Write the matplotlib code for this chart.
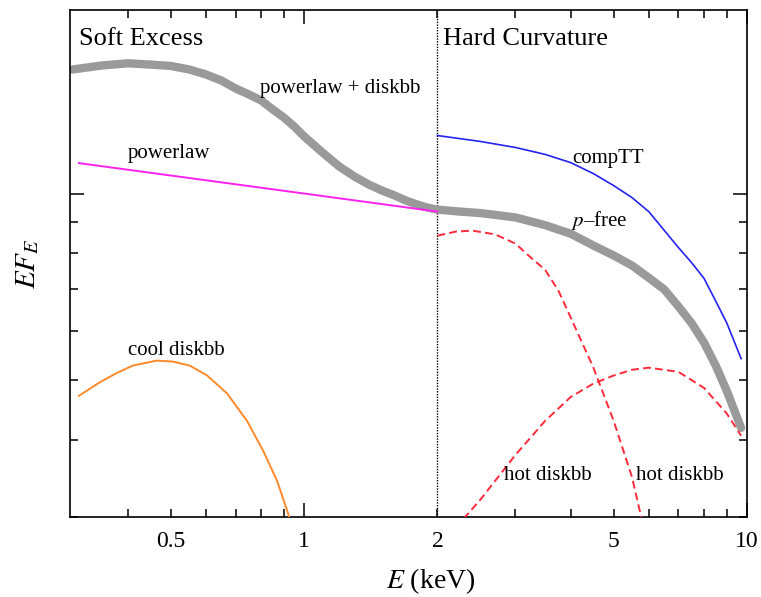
import matplotlib
matplotlib.use('Agg')
import matplotlib.pyplot as plt
import matplotlib.ticker as ticker

plt.rcParams['font.family'] = ['Liberation Serif', 'DejaVu Serif']
plt.rcParams['mathtext.fontset'] = 'stix'

# total model (powerlaw + diskbb on the soft side, p-free on the hard side)
total_e = [0.30, 0.35, 0.40, 0.45, 0.50, 0.55, 0.60, 0.65, 0.70, 0.75, 0.80, 0.85, 0.90, 0.95,
           1.0, 1.1, 1.2, 1.3, 1.4, 1.5, 1.6, 1.7, 1.8, 1.9, 2.0, 2.25, 2.5, 3.0, 3.5, 4.0,
           4.5, 5.0, 5.5, 6.0, 6.5, 7.0, 7.5, 8.0, 8.5, 9.0, 9.7]
total_f = [15.87, 16.11, 16.24, 16.16, 16.08, 15.87, 15.58, 15.23, 14.79, 14.46, 14.14, 13.67,
           13.27, 12.83, 12.37, 11.65, 11.06, 10.65, 10.34, 10.11, 9.93, 9.74, 9.60, 9.49,
           9.42, 9.35, 9.30, 9.15, 8.89, 8.61, 8.24, 7.94, 7.65, 7.31, 7.00, 6.57, 6.17,
           5.74, 5.27, 4.80, 4.18]

# powerlaw
pl_e = [0.31, 1.0, 2.0]
pl_f = [11.2, 10.0, 9.35]

# compTT
comptt_e = [2.0, 2.5, 3.0, 3.5, 4.0, 4.5, 5.0, 5.5, 6.0, 7.0, 7.5, 8.0, 8.5, 9.0, 9.7]
comptt_f = [12.41, 12.14, 11.87, 11.57, 11.22, 10.77, 10.30, 9.85, 9.35, 8.18, 7.73, 7.29,
            6.70, 6.18, 5.41]

# cool diskbb
cool_e = [0.31, 0.345, 0.378, 0.41, 0.465, 0.505, 0.552, 0.604, 0.67, 0.743, 0.808, 0.869,
          0.92, 0.935]
cool_f = [4.71, 4.95, 5.13, 5.27, 5.37, 5.35, 5.27, 5.08, 4.75, 4.29, 3.84, 3.43, 3.04, 2.92]

# hot diskbb (two of them)
hot1_e = [2.0, 2.2, 2.4, 2.7, 3.0, 3.25, 3.5, 3.75, 4.0, 4.5, 5.0, 5.5, 5.8]
hot1_f = [8.55, 8.68, 8.71, 8.59, 8.30, 7.88, 7.53, 6.97, 6.30, 5.23, 4.29, 3.48, 2.95]
hot2_e = [2.29, 2.5, 3.0, 3.5, 4.0, 4.5, 5.0, 5.5, 6.0, 7.0, 8.0, 9.0, 9.7]
hot2_f = [2.98, 3.20, 3.78, 4.29, 4.69, 4.93, 5.08, 5.19, 5.23, 5.15, 4.85, 4.41, 4.06]

xtick_major = [1, 10]
xtick_major_labels = ['1', '10']
xtick_minor = [0.4, 0.5, 0.6, 0.7, 0.8, 0.9, 2, 3, 4, 5, 6, 7, 8, 9]
xtick_minor_labels = ['', '0.5', '', '', '', '', '2', '', '', '5', '', '', '', '']

fig = plt.figure(figsize=(7.61, 5.97), dpi=100)
ax = fig.add_axes([0.092, 0.134, 0.8896, 0.8492])

red_dash = (0, (4, 2.2))
ax.plot(total_e, total_f, color='#9a9a9a', lw=6, solid_capstyle='round', zorder=2)
ax.plot(pl_e, pl_f, color='#ff22ee', lw=1.4, zorder=3)
ax.plot(comptt_e, comptt_f, color='#2424ee', lw=1.2, zorder=3)
ax.plot(cool_e, cool_f, color='#ff8a2a', lw=1.4, zorder=3)
ax.plot(hot1_e, hot1_f, color='#ff2b3a', lw=1.4, ls=red_dash, zorder=3)
ax.plot(hot2_e, hot2_f, color='#ff2b3a', lw=1.4, ls=red_dash, zorder=3)
ax.axvline(2, color='black', lw=1.0, ls=(0, (1, 1)), zorder=1)

ax.set_xscale('log')
ax.set_yscale('log')
ax.set_xlim(0.296, 10)
ax.set_ylim(3, 19.8)

ax.set_xticks(xtick_major)
ax.set_xticklabels(xtick_major_labels)
ax.set_xticks(xtick_minor, minor=True)
ax.set_xticklabels(xtick_minor_labels, minor=True)
ax.yaxis.set_major_locator(ticker.FixedLocator([10]))
ax.yaxis.set_minor_locator(ticker.FixedLocator([3, 4, 5, 6, 7, 8, 9]))
ax.yaxis.set_major_formatter(ticker.NullFormatter())
ax.yaxis.set_minor_formatter(ticker.NullFormatter())

ax.tick_params(which='both', direction='in', top=True, right=True, width=1.1,
               labelsize=17, pad=10)
ax.tick_params(which='major', length=10)
ax.tick_params(which='minor', length=6)
for s in ax.spines.values():
    s.set_linewidth(1.2)

ax.set_xlabel(r'$E$ (keV)', fontsize=20)
ax.xaxis.set_label_coords(0.533, -0.097)
ax.set_ylabel(r'$EF_E$', fontsize=21, labelpad=11)

ax.text(0.31, 17.8, 'Soft Excess', fontsize=19, va='center')
ax.text(2.06, 17.8, 'Hard Curvature', fontsize=19, va='center')
ax.text(0.795, 14.8, 'powerlaw + diskbb', fontsize=15, va='center')
ax.text(0.4, 11.6, 'powerlaw', fontsize=15, va='center')
ax.text(4.04, 11.4, 'compTT', fontsize=15, va='center')
ax.text(4.0, 9.04, r'$p$' + '\u2013free', fontsize=15, va='center')
ax.text(0.4, 5.57, 'cool diskbb', fontsize=15, va='center')
ax.text(2.82, 3.5, 'hot diskbb', fontsize=15, va='center')
ax.text(5.61, 3.5, 'hot diskbb', fontsize=15, va='center')

fig.savefig('out.png', dpi=100)
